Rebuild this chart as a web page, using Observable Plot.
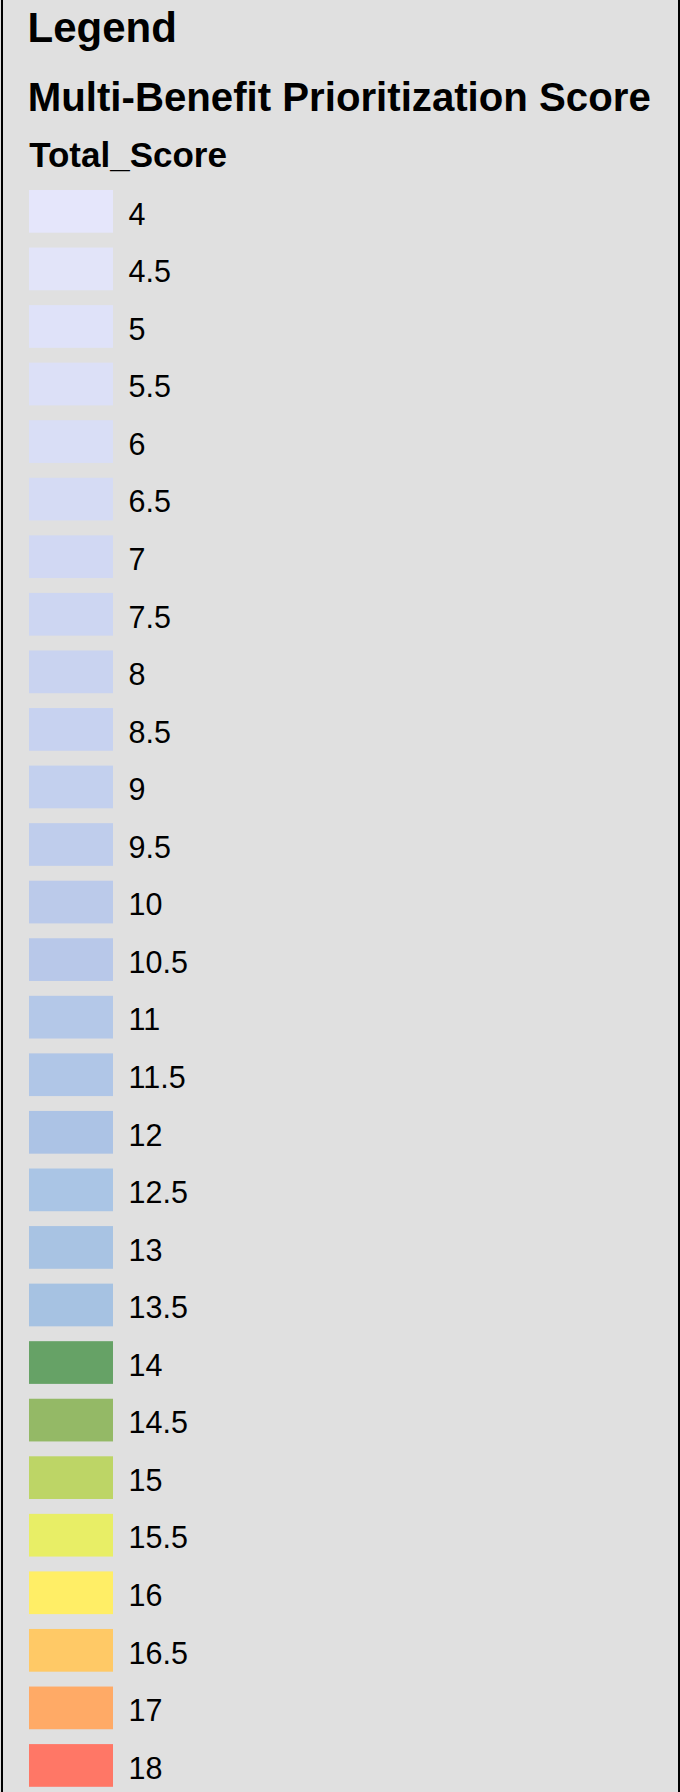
<!DOCTYPE html>
<html>
<head>
<meta charset="utf-8">
<script src="https://cdn.jsdelivr.net/npm/d3@7"></script>
<script src="https://cdn.jsdelivr.net/npm/@observablehq/plot@0.6"></script>
<style>
  html, body { margin: 0; padding: 0; background: #e0e0e0; }
  #page { position: relative; width: 680px; height: 1792px; background: #e0e0e0; overflow: hidden; }
  #border { position: absolute; left: 1px; top: 0; width: 675px; height: 1792px; border-left: 2px solid #000; border-right: 2px solid #000; pointer-events: none; }
  #header { position: relative; height: 180px; }
  .t { position: absolute; font-family: "Liberation Sans", Arial, sans-serif; font-weight: bold; color: #000; line-height: 1; white-space: nowrap; }
  #chart svg { display: block; }
</style>
</head>
<body>
<div id="page">
  <div id="header">
    <div class="t" style="left:27.6px; top:6.8px; font-size:42px;">Legend</div>
    <div class="t" style="left:27.8px; top:78.4px; font-size:40.2px;">Multi-Benefit Prioritization Score</div>
    <div class="t" style="left:29.2px; top:137.1px; font-size:35px;">Total_Score</div>
  </div>
  <div id="chart"></div>
  <div id="border"></div>
</div>
<script>
const labels = ["4","4.5","5","5.5","6","6.5","7","7.5","8","8.5","9","9.5","10","10.5","11","11.5","12","12.5","13","13.5","14","14.5","15","15.5","16","16.5","17","18"];
const colors = ["#e5e6fb","#e2e4f9","#dfe2f9","#dce0f7","#d9def6","#d5dbf4","#d1d8f3","#cdd6f2","#c9d3f0","#c7d2f0","#c3d0ee","#bfcdec","#bbcaea","#b8c8e9","#b4c8e8","#b0c6e7","#acc3e5","#aac5e5","#a8c3e3","#a6c2e2","#66a266","#94b966","#bdd566","#e8ee66","#ffee66","#ffc966","#ffaa66","#ff7766"];
const data = labels.map(l => ({label: l}));

const chart = Plot.plot({
  width: 680,
  height: 1612,
  marginTop: 10,
  marginBottom: 5.2,
  marginLeft: 29,
  marginRight: 567,
  style: {background: "transparent", fontFamily: "'Liberation Sans', Arial, sans-serif"},
  y: {domain: labels, axis: null, paddingInner: 0.258, paddingOuter: 0, round: false},
  color: {type: "ordinal", domain: labels, range: colors},
  marks: [
    Plot.cell(data, {y: "label", fill: "label", inset: 0}),
    Plot.text(data, {y: "label", text: "label", frameAnchor: "right", textAnchor: "start", dx: 15, dy: 3, fontSize: 30.5, fill: "#000"})
  ]
});
document.getElementById("chart").appendChild(chart);
</script>
</body>
</html>
